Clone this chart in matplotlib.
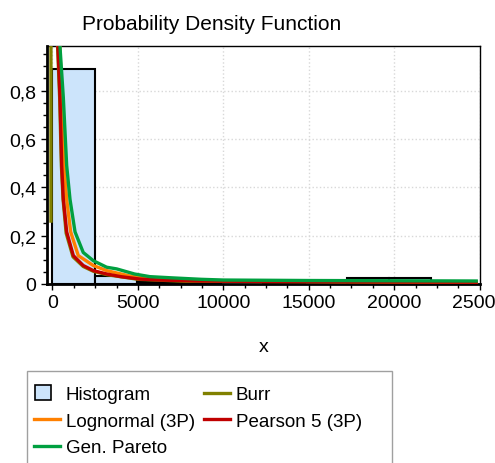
import matplotlib
matplotlib.use("Agg")
import matplotlib.pyplot as plt
from matplotlib.ticker import MultipleLocator, FuncFormatter
from matplotlib.patches import Patch, Rectangle
from matplotlib.lines import Line2D
from matplotlib.legend_handler import HandlerPatch

plt.rcParams["font.family"] = ["Liberation Sans", "DejaVu Sans"]

# histogram (relative frequency per bin)
hist_left = [0, 2460, 4920, 7380, 12300, 17220, 19680]
hist_width = [2460, 2460, 2460, 2460, 2460, 2460, 2460]
hist_height = [0.89, 0.033, 0.007, 0.004, 0.003, 0.025, 0.025]

# fitted curves
burr_x = [-90, -90, 250, 300, 420, 520, 620, 800, 1200, 1800, 2400, 3200, 5000, 7800, 8300, 12000, 20000, 24800]
burr_y = [0.26, 1.5, 1.5, 0.98, 0.77, 0.49, 0.35, 0.21, 0.112, 0.072, 0.052, 0.038, 0.019, 0.011, 0.011, 0.010, 0.008, 0.007]

logn_x = [380, 430, 540, 675, 830, 1065, 1510, 2390, 3170, 4500, 6000, 9000, 14000, 20000, 24800]
logn_y = [1.5, 0.98, 0.77, 0.49, 0.35, 0.215, 0.117, 0.076, 0.055, 0.033, 0.022, 0.014, 0.011, 0.009, 0.008]

pear_x = [280, 320, 440, 540, 635, 830, 1220, 1800, 2390, 3170, 4000, 5120, 6300, 8500, 12000, 16000, 20000, 24800]
pear_y = [1.5, 0.98, 0.77, 0.49, 0.35, 0.215, 0.117, 0.076, 0.055, 0.041, 0.030, 0.020, 0.016, 0.012, 0.010, 0.009, 0.008, 0.007]

gpar_x = [400, 440, 635, 830, 1025, 1320, 1800, 2390, 3170, 3760, 4800, 5700, 7000, 8700, 10000, 15000, 20000, 24800]
gpar_y = [1.5, 0.98, 0.77, 0.49, 0.35, 0.215, 0.13, 0.096, 0.069, 0.062, 0.041, 0.030, 0.025, 0.019, 0.016, 0.014, 0.013, 0.012]

C_HIST = "#cce4fb"
C_BURR = "#808000"
C_LOGN = "#ff8000"
C_PEAR = "#c00000"
C_GPAR = "#00a040"

fig = plt.figure(figsize=(4.95, 4.64), dpi=100)
ax = fig.add_axes([0.0943, 0.386, 0.8757, 0.513])

ax.bar(hist_left, hist_height, width=hist_width, align="edge",
       color=C_HIST, edgecolor="black", linewidth=1.5, zorder=2)
lw = 2.4
ax.plot(burr_x, burr_y, color=C_BURR, lw=lw, zorder=3)
ax.plot(logn_x, logn_y, color=C_LOGN, lw=lw, zorder=4)
ax.plot(pear_x, pear_y, color=C_PEAR, lw=lw, zorder=5)
ax.plot(gpar_x, gpar_y, color=C_GPAR, lw=lw, zorder=6)

ax.set_xlim(-340, 25030)
ax.set_ylim(0, 0.985)
ax.xaxis.set_major_locator(MultipleLocator(5000))
ax.xaxis.set_minor_locator(MultipleLocator(1250))
ax.yaxis.set_major_locator(MultipleLocator(0.2))
ax.yaxis.set_minor_locator(MultipleLocator(0.05))
ax.yaxis.set_major_formatter(FuncFormatter(lambda v, p: ("%g" % round(v, 2)).replace(".", ",")))
ax.tick_params(labelsize=14, direction="out", length=4, width=1)
ax.tick_params(which="minor", direction="out", length=3, width=1)
ax.grid(True, which="major", color="#d8d8d8", linestyle=":", linewidth=1, zorder=0)
ax.set_axisbelow(True)
for side in ("left", "bottom"):
    ax.spines[side].set_linewidth(2)
for side in ("top", "right"):
    ax.spines[side].set_linewidth(1)

ax.set_xlabel("x", fontsize=14, labelpad=19)
fig.text(0.428, 0.948, "Probability Density Function", fontsize=15, ha="center", va="center")


def square_patch(legend, orig_handle, xdescent, ydescent, width, height, fontsize):
    side = height + 2
    return Rectangle((-xdescent + 1, -ydescent - 1), side, side)


handles = [
    Patch(facecolor=C_HIST, edgecolor="black", linewidth=1.2, label="Histogram"),
    Line2D([], [], color=C_LOGN, lw=2.4, label="Lognormal (3P)"),
    Line2D([], [], color=C_GPAR, lw=2.4, label="Gen. Pareto"),
    Line2D([], [], color=C_BURR, lw=2.4, label="Burr"),
    Line2D([], [], color=C_PEAR, lw=2.4, label="Pearson 5 (3P)"),
]
# legend frame runs off the bottom of the figure, as in the original
fig.patches.append(Rectangle((0.054, -0.05), 0.737, 0.249, transform=fig.transFigure,
                             facecolor="white", edgecolor="#a0a0a0", linewidth=1, zorder=1))
leg = fig.legend(handles=handles, ncol=2, loc="upper left", bbox_to_anchor=(0.068, 0.166),
                 fontsize=13.5, frameon=False,
                 handlelength=1.4, handletextpad=0.3, columnspacing=0.5,
                 labelspacing=0.5, borderpad=0, borderaxespad=0,
                 handler_map={Patch: HandlerPatch(patch_func=square_patch)})

fig.savefig("out.png", dpi=100)
